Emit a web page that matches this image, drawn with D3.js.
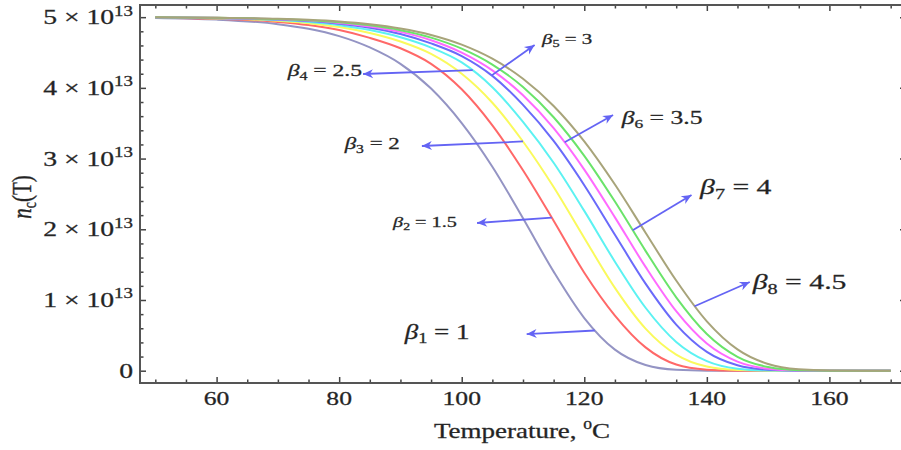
<!DOCTYPE html>
<html>
<head>
<meta charset="utf-8">
<script src="https://cdn.jsdelivr.net/npm/d3@7"></script>
<style>
body { margin: 0; background: #fff; }
svg { display: block; font-family: "Liberation Serif", "DejaVu Serif", serif; }
svg text { stroke: #333; stroke-width: 0.3px; }
</style>
</head>
<body>
<div id="chart"></div>
<script>
// temperature grid (deg C)
var temps = [50, 60, 70, 75, 80, 85, 90, 95, 100, 105, 110, 115, 120, 125, 130, 135, 140, 145, 150, 155, 160, 170];
// n_c(T), in units of 10^13
var beta1 = [4.989, 4.966, 4.901, 4.836, 4.732, 4.572, 4.34, 3.99, 3.502, 2.885, 2.156, 1.401, 0.745, 0.298, 0.080, 0.012, 0.001, 0, 0, 0, 0, 0];
var beta2 = [4.993, 4.977, 4.933, 4.889, 4.818, 4.707, 4.56, 4.34, 3.98, 3.47, 2.835, 2.121, 1.386, 0.78, 0.33, 0.087, 0.015, 0.001, 0, 0, 0, 0];
var beta3 = [4.994, 4.983, 4.949, 4.915, 4.860, 4.775, 4.655, 4.48, 4.20, 3.79, 3.242, 2.598, 1.877, 1.171, 0.595, 0.227, 0.058, 0.009, 0.001, 0, 0, 0];
var beta4 = [4.996, 4.986, 4.959, 4.931, 4.886, 4.817, 4.715, 4.57, 4.36, 4.01, 3.519, 2.941, 2.260, 1.542, 0.890, 0.407, 0.135, 0.029, 0.003, 0, 0, 0];
var beta5 = [4.996, 4.989, 4.966, 4.944, 4.908, 4.851, 4.762, 4.629, 4.45, 4.17, 3.759, 3.249, 2.623, 1.923, 1.231, 0.652, 0.266, 0.076, 0.013, 0.001, 0, 0];
var beta6 = [4.997, 4.990, 4.971, 4.951, 4.919, 4.869, 4.792, 4.674, 4.499, 4.248, 3.896, 3.430, 2.844, 2.168, 1.468, 0.842, 0.384, 0.128, 0.028, 0.003, 0, 0];
var beta7 = [4.997, 4.991, 4.974, 4.957, 4.929, 4.884, 4.816, 4.711, 4.555, 4.330, 4.012, 3.585, 3.039, 2.392, 1.695, 1.038, 0.519, 0.197, 0.052, 0.008, 0.001, 0];
var beta8 = [4.998, 4.992, 4.977, 4.962, 4.938, 4.899, 4.839, 4.748, 4.611, 4.412, 4.129, 3.744, 3.243, 2.633, 1.952, 1.275, 0.698, 0.301, 0.094, 0.019, 0.002, 0];

var betaSub = ["1", "2", "3", "4", "5", "6", "7", "8"];
var betaVal = ["1", "1.5", "2", "2.5", "3", "3.5", "4", "4.5"];
var colors = ["#9494c4", "#ff6868", "#fafa5c", "#5cf2f2", "#6a6afa", "#ff6aff", "#6ae46a", "#a8a47a"];

var xTicks = [60, 80, 100, 120, 140, 160];
var yTicks = [0, 1, 2, 3, 4, 5];

// annotations: label position, arrow tip, and temperature where the arrow leaves its curve
var labelT = [90.7, 88.8, 80.9, 71.6, 113.1, 126.1, 138.9, 147.5];
var labelN = [0.45, 2.03, 3.135, 4.168, 4.62, 3.49, 2.50, 1.155];
var tipT = [110.6, 102.5, 93.5, 83.9, 111.9, 124.7, 137.5, 147.0];
var tipN = [0.518, 2.089, 3.178, 4.196, 4.606, 3.616, 2.485, 1.254];
var startT = [121.7, 114.7, 110.0, 101.8, 104.9, 116.8, 127.9, 138.0];
var labelSize = [20, 15, 17, 17.5, 15.5, 19, 22, 22];

var width = 901, height = 450;
var SX = 1.35; // the figure's lettering is stretched horizontally

var svg = d3.select("#chart").append("svg")
	.attr("width", width).attr("height", height);

var x = d3.scaleLinear().domain([47.5, 172.5]).range([140, 906]);
var y = d3.scaleLinear().domain([-0.174, 5.172]).range([383, 5]);

function stretched(parent, px, py, anchor, size) {
	return parent.append("g")
		.attr("transform", "translate(" + px + "," + py + ") scale(" + SX + ",1)")
		.append("text")
		.attr("text-anchor", anchor)
		.attr("font-size", size)
		.attr("fill", "#222");
}

// ticks (inside the frame, Mathematica style)
var minorX = d3.range(50, 171, 5).filter(function(v) { return xTicks.indexOf(v) < 0; });
var minorY = d3.range(0, 51, 2).map(function(v) { return v / 10; })
	.filter(function(v) { return yTicks.indexOf(v) < 0; });

function tickGroup(axis, ty) {
	var g = svg.append("g").attr("transform", ty).call(axis);
	g.select(".domain").remove();
	g.selectAll("line").attr("stroke", "#444").attr("stroke-width", 1.5);
	g.selectAll("text").remove();
	return g;
}
tickGroup(d3.axisBottom(x).tickValues(xTicks).tickSize(-6), "translate(0,383)");
tickGroup(d3.axisBottom(x).tickValues(minorX).tickSize(-3.5), "translate(0,383)");
tickGroup(d3.axisTop(x).tickValues(xTicks).tickSize(-6), "translate(0,5)");
tickGroup(d3.axisTop(x).tickValues(minorX).tickSize(-3.5), "translate(0,5)");
tickGroup(d3.axisLeft(y).tickValues(yTicks).tickSize(-6), "translate(140,0)");
tickGroup(d3.axisLeft(y).tickValues(minorY).tickSize(-3.5), "translate(140,0)");
tickGroup(d3.axisRight(y).tickValues(yTicks).tickSize(-6), "translate(906,0)");
tickGroup(d3.axisRight(y).tickValues(minorY).tickSize(-3.5), "translate(906,0)");

// frame
svg.append("rect")
	.attr("x", x.range()[0]).attr("y", y.range()[1])
	.attr("width", x.range()[1] - x.range()[0])
	.attr("height", y.range()[0] - y.range()[1])
	.attr("fill", "none").attr("stroke", "#555").attr("stroke-width", 2);

// tick labels
xTicks.forEach(function(v) {
	stretched(svg, x(v), 405, "middle", 19).text(v);
});
yTicks.forEach(function(v) {
	var t = stretched(svg, 133, y(v) + 7, "end", 20.5);
	if (v === 0) { t.text("0"); return; }
	t.append("tspan").text(v + " \u00d7 10");
	t.append("tspan").attr("font-size", 14).attr("dy", -8.5).text("13");
});

// axis titles
var xt = stretched(svg, 522, 438, "middle", 20);
xt.append("tspan").text("Temperature, ");
xt.append("tspan").attr("font-size", 13).attr("dy", -9).text("0");
xt.append("tspan").attr("dy", 9).text("C");

var yt = svg.append("g")
	.attr("transform", "translate(31,197) scale(" + SX + ",1) rotate(-90)")
	.append("text").attr("text-anchor", "middle").attr("font-size", 21).attr("fill", "#222");
yt.append("tspan").attr("font-style", "italic").text("n");
yt.append("tspan").attr("font-size", 14).attr("dy", 4).text("c");
yt.append("tspan").attr("dy", -4).text("(T)");

// curves
var series = [beta1, beta2, beta3, beta4, beta5, beta6, beta7, beta8];
var line = d3.line()
	.x(function(d) { return x(d[0]); })
	.y(function(d) { return y(d[1]); })
	.curve(d3.curveMonotoneX);

var paths = svg.append("g").selectAll("path")
	.data(series)
	.enter().append("path")
	.attr("fill", "none")
	.attr("stroke", function(d, i) { return colors[i]; })
	.attr("stroke-width", 2)
	.attr("d", function(d) { return line(d.map(function(v, j) { return [temps[j], v]; })); });

function pointOnPath(node, px) {
	var lo = 0, hi = node.getTotalLength();
	for (var k = 0; k < 40; k++) {
		var mid = (lo + hi) / 2;
		if (node.getPointAtLength(mid).x < px) lo = mid; else hi = mid;
	}
	return node.getPointAtLength((lo + hi) / 2);
}

// arrows
var arrowColor = "#6464f4";
svg.append("defs").append("marker")
	.attr("id", "head")
	.attr("viewBox", "-11 -5 12 10")
	.attr("refX", 0).attr("refY", 0)
	.attr("markerUnits", "userSpaceOnUse")
	.attr("markerWidth", 12).attr("markerHeight", 10)
	.attr("orient", "auto")
	.append("path")
	.attr("d", "M0,0 L-10,-4.5 L-7,0 L-10,4.5 Z")
	.attr("fill", arrowColor);

var pathNodes = paths.nodes();
startT.forEach(function(t, i) {
	var p = pointOnPath(pathNodes[i], x(t));
	svg.append("line")
		.attr("x1", p.x).attr("y1", p.y)
		.attr("x2", x(tipT[i])).attr("y2", y(tipN[i]))
		.attr("stroke", arrowColor).attr("stroke-width", 1.8)
		.attr("marker-end", "url(#head)");
});

// labels
betaSub.forEach(function(s, i) {
	var size = labelSize[i];
	var t = stretched(svg, x(labelT[i]), y(labelN[i]), "start", size);
	t.append("tspan").attr("font-style", "italic").text("\u03b2");
	t.append("tspan").attr("font-size", size * 0.68).attr("dy", size * 0.22).text(s);
	t.append("tspan").attr("dy", -size * 0.22).text(" = " + betaVal[i]);
});
</script>
</body>
</html>
